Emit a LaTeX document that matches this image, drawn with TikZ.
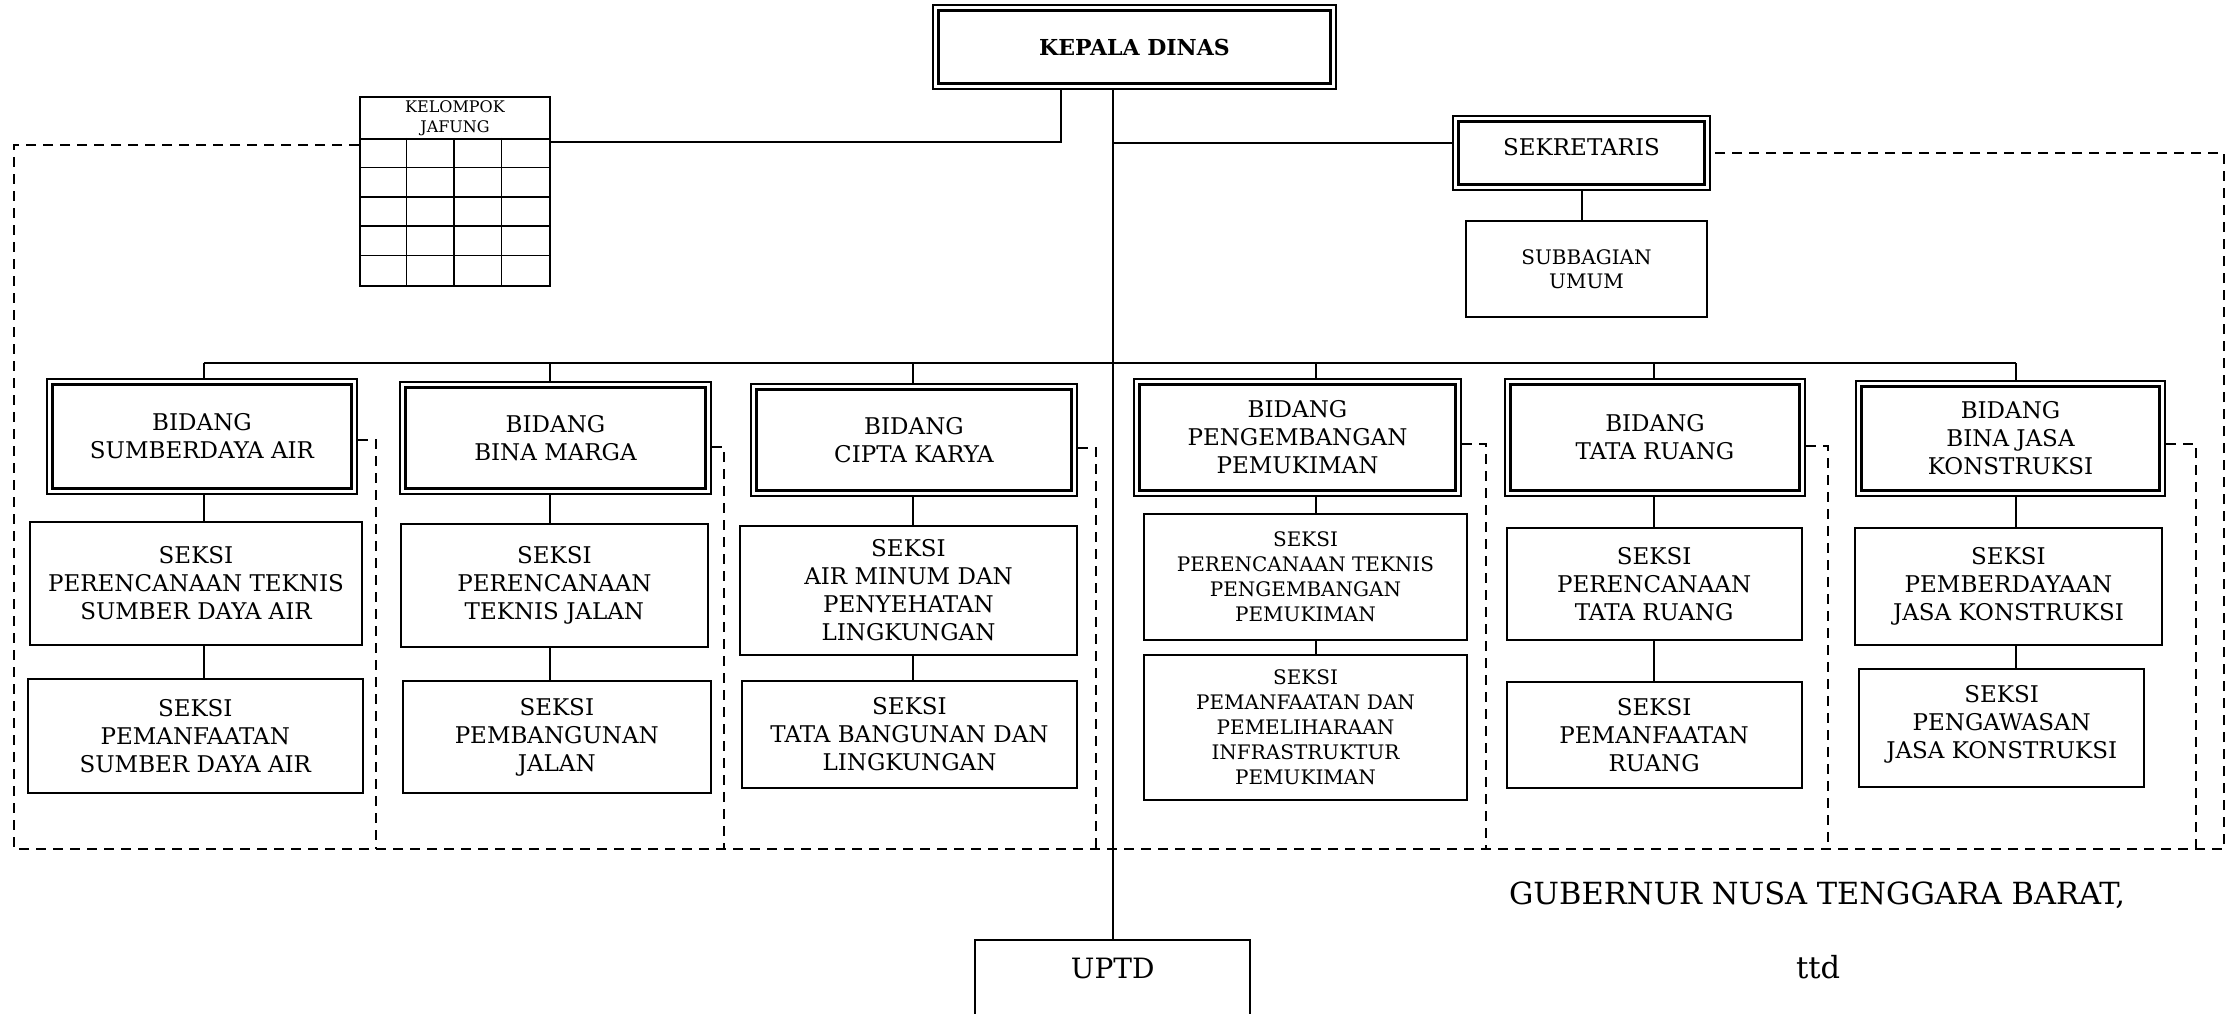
\documentclass[tikz,border=0pt]{standalone}
\usepackage{fontspec}
\setmainfont{DejaVu Serif}
\begin{document}
\begin{tikzpicture}[x=1pt,y=-1pt,
  conn/.style={line width=2pt},
  dashln/.style={line width=2.5pt, dash pattern=on 10pt off 7pt},
  orgbox/.style={draw, line width=2pt, inner sep=0pt, align=center, font=\fontsize{23}{28}\selectfont},
  dblbox/.style={orgbox, path picture={\draw[line width=3pt] ([shift={(5.5pt,-5.5pt)}]path picture bounding box.north west) rectangle ([shift={(-5.5pt,5.5pt)}]path picture bounding box.south east);}},
  smallseksi/.style={font=\fontsize{20}{25}\selectfont}
]
\fill[white] (0,0) rectangle (2233,1014);
\useasboundingbox (0,0) rectangle (2233,1014);

% top level
\node[dblbox, minimum width=403, minimum height=84, font=\bfseries\fontsize{22}{26}\selectfont] (kepala) at (1134.5,47) {KEPALA DINAS};
\node[orgbox, minimum width=190, minimum height=42, font=\fontsize{16}{20}\selectfont] (jafhead) at (455,118) {KELOMPOK\\JAFUNG};
\node[orgbox, minimum width=190, minimum height=147] (jafgrid) at (455,212.5) {};
\foreach \i in {1,2,3} {\draw[line width=1.6pt] ([xshift=47.5*\i pt]jafgrid.north west) -- ([xshift=47.5*\i pt]jafgrid.south west);}
\foreach \i in {1,2,3,4} {\draw[line width=1.6pt] ([yshift=-29.4*\i pt]jafgrid.north west) -- ([yshift=-29.4*\i pt]jafgrid.north east);}
\node[dblbox, minimum width=257, minimum height=74, text depth=12pt] (sekr) at (1581.5,153) {SEKRETARIS};
\node[orgbox, minimum width=241, minimum height=96, font=\fontsize{20}{24}\selectfont] (subb) at (1586.5,269) {SUBBAGIAN\\UMUM};

% bidang
\node[dblbox, minimum width=310, minimum height=115] (bSDA) at (202,436.5) {BIDANG\\SUMBERDAYA AIR};
\node[dblbox, minimum width=311, minimum height=112] (bBM) at (555.5,438) {BIDANG\\BINA MARGA};
\node[dblbox, minimum width=326, minimum height=112] (bCK) at (914,440) {BIDANG\\CIPTA KARYA};
\node[dblbox, minimum width=327, minimum height=117] (bPP) at (1297.5,437.5) {BIDANG\\PENGEMBANGAN\\PEMUKIMAN};
\node[dblbox, minimum width=300, minimum height=117] (bTR) at (1655,437.5) {BIDANG\\TATA RUANG};
\node[dblbox, minimum width=309, minimum height=115] (bBJK) at (2010.5,438.5) {BIDANG\\BINA JASA\\KONSTRUKSI};

% seksi
\node[orgbox, minimum width=332, minimum height=123] (sSDA1) at (196,583.5) {SEKSI\\PERENCANAAN TEKNIS\\SUMBER DAYA AIR};
\node[orgbox, minimum width=335, minimum height=114] (sSDA2) at (195.3,736) {SEKSI\\PEMANFAATAN\\SUMBER DAYA AIR};
\node[orgbox, minimum width=307, minimum height=123] (sBM1) at (554.4,585.2) {SEKSI\\PERENCANAAN\\TEKNIS JALAN};
\node[orgbox, minimum width=308, minimum height=112] (sBM2) at (556.8,736.9) {SEKSI\\PEMBANGUNAN\\JALAN};
\node[orgbox, minimum width=337, minimum height=129] (sCK1) at (908.5,590.5) {SEKSI\\AIR MINUM DAN\\PENYEHATAN\\LINGKUNGAN};
\node[orgbox, minimum width=335, minimum height=107] (sCK2) at (909.5,734.2) {SEKSI\\TATA BANGUNAN DAN\\LINGKUNGAN};
\node[orgbox, smallseksi, minimum width=323, minimum height=126] (sPP1) at (1305.5,577) {SEKSI\\PERENCANAAN TEKNIS\\PENGEMBANGAN\\PEMUKIMAN};
\node[orgbox, smallseksi, minimum width=323, minimum height=145] (sPP2) at (1305.5,727.5) {SEKSI\\PEMANFAATAN DAN\\PEMELIHARAAN\\INFRASTRUKTUR\\PEMUKIMAN};
\node[orgbox, minimum width=295, minimum height=112] (sTR1) at (1654.1,583.9) {SEKSI\\PERENCANAAN\\TATA RUANG};
\node[orgbox, minimum width=295, minimum height=106] (sTR2) at (1654.1,734.9) {SEKSI\\PEMANFAATAN\\RUANG};
\node[orgbox, minimum width=307, minimum height=117] (sBJK1) at (2008.5,586.5) {SEKSI\\PEMBERDAYAAN\\JASA KONSTRUKSI};
\node[orgbox, minimum width=285, minimum height=118, text depth=12pt] (sBJK2) at (2001.7,728.2) {SEKSI\\PENGAWASAN\\JASA KONSTRUKSI};

% UPTD (box runs past the bottom edge)
\node[inner sep=0pt, minimum width=274.5, minimum height=56, font=\fontsize{28}{32}\selectfont] (uptd) at (1112.75,968) {UPTD};
\draw[conn] (uptd.north west |- 0,1020) -- (uptd.north west) -- (uptd.north east) -- (uptd.north east |- 0,1020);

% signature
\node[anchor=base, inner sep=0pt, font=\fontsize{30.5}{34}\selectfont] (gub) at (1817,904) {GUBERNUR NUSA TENGGARA BARAT,};
\node[anchor=base, inner sep=0pt, font=\fontsize{30.5}{34}\selectfont] (ttd) at (1818,978) {ttd};

% solid connectors
\coordinate (kj) at (1061,142);
\coordinate (colSDA) at (203.6,363);
\coordinate (colBM) at (550,363);
\coordinate (colCK) at (913,363);
\coordinate (colPP) at (1315.5,363);
\coordinate (colTR) at (1654.4,363);
\coordinate (colBJK) at (2015.5,363);
\draw[conn] (uptd.north) -- (uptd.north |- kepala.south);
\draw[conn] (kj |- kepala.south) -- (kj) -- (jafgrid.east |- kj);
\draw[conn] (uptd.north |- 0,143) -- (sekr.west |- 0,143);
\draw[conn] (sekr.south) -- (sekr.south |- subb.north);
\draw[conn] (colSDA) -- (colBJK);
\foreach \c in {SDA,BM,CK,PP,TR,BJK} {
  \draw[conn] (col\c) -- (col\c |- b\c.north);
  \draw[conn] (col\c |- b\c.south) -- (col\c |- s\c1.north);
  \draw[conn] (col\c |- s\c1.south) -- (col\c |- s\c2.north);
}

% dashed lines
\coordinate (fTL) at (14,145);
\coordinate (fBL) at (14,849);
\coordinate (fBR) at (2224,849);
\coordinate (fTR) at (2224,153);
\draw[dashln] (jafgrid.west |- fTL) -- (fTL) -- (fBL) -- (fBR) -- (fTR) -- (sekr.east |- fTR);
\draw[dashln] (bSDA.east |- 0,440) -| (376,849);
\draw[dashln] (bBM.east |- 0,447) -| (724,849);
\draw[dashln] (bCK.east |- 0,448) -| (1096,849);
\draw[dashln] (bPP.east |- 0,444) -| (1486,849);
\draw[dashln] (bTR.east |- 0,446) -| (1828,849);
\draw[dashln] (bBJK.east |- 0,444) -| (2196,849);
\end{tikzpicture}
\end{document}
